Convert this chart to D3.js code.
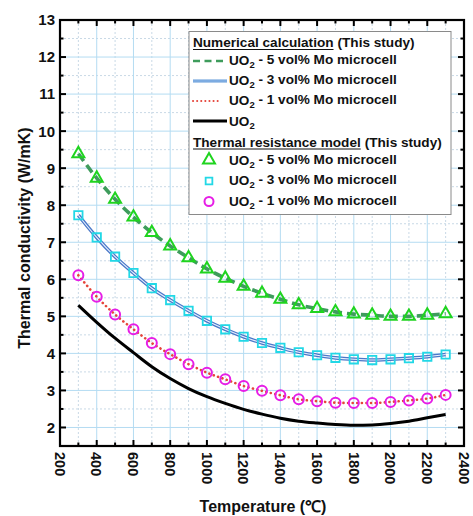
<!DOCTYPE html>
<html><head><meta charset="utf-8">
<script src="https://cdn.jsdelivr.net/npm/d3@7"></script>
<style>body{margin:0;background:#fff}svg{display:block}text{font-family:"Liberation Sans",Arial,sans-serif;font-weight:bold;fill:#111}</style>
</head><body><svg id="c" width="473" height="516"></svg>
<script>
const temps = [300,400,500,600,700,800,900,1000,1100,1200,1300,1400,1500,1600,1700,1800,1900,2000,2100,2200,2300];
const k5 = [9.39,8.73,8.16,7.68,7.26,6.90,6.58,6.28,6.03,5.81,5.62,5.46,5.31,5.21,5.12,5.06,5.03,5.00,5.00,5.03,5.07];
const k3 = [7.73,7.13,6.61,6.17,5.76,5.44,5.15,4.88,4.65,4.45,4.28,4.15,4.03,3.95,3.88,3.84,3.82,3.84,3.87,3.91,3.97];
const k1 = [6.11,5.53,5.05,4.65,4.28,3.98,3.71,3.48,3.30,3.12,2.99,2.87,2.76,2.71,2.67,2.66,2.66,2.69,2.73,2.78,2.88];
const kUO2 = [5.30,4.84,4.41,4.02,3.64,3.32,3.05,2.83,2.65,2.49,2.36,2.25,2.17,2.12,2.08,2.06,2.07,2.11,2.17,2.26,2.35];
const xTicks = [200,400,600,800,1000,1200,1400,1600,1800,2000,2200,2400];
const yTicks = [2,3,4,5,6,7,8,9,10,11,12,13];
const xLabel = "Temperature (\u2103)";
const yLabel = "Thermal conductivity (W/mK)";

const svg = d3.select("#c");
const L=60,R=464,T=20,B=446;
const x = d3.scaleLinear().domain([200,2400]).range([L,R]);
const y = d3.scaleLinear().domain([1.5,13]).range([B,T]);

// grid
const g = svg.append("g");
const xMinor = d3.range(300,2400,200), yMinor = d3.range(2.5,13,1);
g.selectAll(".gxm").data(xMinor).join("line").attr("x1",d=>x(d)).attr("x2",d=>x(d)).attr("y1",T).attr("y2",B)
 .attr("stroke","#c9d9e6").attr("stroke-dasharray","2,2").attr("stroke-width",1);
g.selectAll(".gym").data(yMinor).join("line").attr("y1",d=>y(d)).attr("y2",d=>y(d)).attr("x1",L).attr("x2",R)
 .attr("stroke","#c9d9e6").attr("stroke-dasharray","2,2").attr("stroke-width",1);
g.selectAll(".gx").data(xTicks.slice(1,-1)).join("line").attr("x1",d=>x(d)).attr("x2",d=>x(d)).attr("y1",T).attr("y2",B)
 .attr("stroke","#b4dcf2").attr("stroke-width",1);
g.selectAll(".gy").data(yTicks.slice(0,-1)).join("line").attr("y1",d=>y(d)).attr("y2",d=>y(d)).attr("x1",L).attr("x2",R)
 .attr("stroke","#b4dcf2").attr("stroke-width",1);

// lines
const pts = arr => temps.map((t,i)=>[x(t),y(arr[i])]);
const line = d3.line().curve(d3.curveMonotoneX);
svg.append("path").attr("d",line(pts(kUO2))).attr("fill","none").attr("stroke","#000").attr("stroke-width",3);
svg.append("path").attr("d",line(pts(k1))).attr("fill","none").attr("stroke","#e5443a").attr("stroke-width",2.6)
 .attr("stroke-dasharray","0.1,4.5").attr("stroke-linecap","round");
svg.append("path").attr("d",line(pts(k3))).attr("fill","none").attr("stroke","#4a78c8").attr("stroke-width",3.6);
svg.append("path").attr("d",line(pts(k3))).attr("fill","none").attr("stroke","#e8f0ff").attr("stroke-width",1.1);
svg.append("path").attr("d",line(pts(k5))).attr("fill","none").attr("stroke","#3e9c5c").attr("stroke-width",3.6)
 .attr("stroke-dasharray","9,5");

// markers
const tri = d3.symbol().type(d3.symbolTriangle).size(62);
const sq = d3.symbol().type(d3.symbolSquare).size(70);
svg.selectAll(".m5").data(temps).join("path").attr("d",tri()).attr("transform",(d,i)=>`translate(${x(d)},${y(k5[i])})`)
 .attr("fill","none").attr("stroke","#1fd41f").attr("stroke-width",2);
svg.selectAll(".m3").data(temps).join("path").attr("d",sq()).attr("transform",(d,i)=>`translate(${x(d)},${y(k3[i])})`)
 .attr("fill","none").attr("stroke","#22d8e6").attr("stroke-width",1.8);
svg.selectAll(".m1").data(temps).join("circle").attr("cx",d=>x(d)).attr("cy",(d,i)=>y(k1[i])).attr("r",5)
 .attr("fill","none").attr("stroke","#e61ee6").attr("stroke-width",2);

// frame & ticks
const ax = svg.append("g").attr("stroke","#000");
ax.append("rect").attr("x",L).attr("y",T).attr("width",R-L).attr("height",B-T).attr("fill","none").attr("stroke-width",2.2);
const xAll = d3.range(200,2401,100), yAll = d3.range(1.5,13.01,0.5);
xAll.forEach(v=>{const len = v%200===0?6:3.5;
  ax.append("line").attr("x1",x(v)).attr("x2",x(v)).attr("y1",B).attr("y2",B-len).attr("stroke-width",2);
  ax.append("line").attr("x1",x(v)).attr("x2",x(v)).attr("y1",T).attr("y2",T+len).attr("stroke-width",2);});
yAll.forEach(v=>{const len = Math.abs(v%1)<1e-6?6:3.5;
  ax.append("line").attr("y1",y(v)).attr("y2",y(v)).attr("x1",L).attr("x2",L+len).attr("stroke-width",2);
  ax.append("line").attr("y1",y(v)).attr("y2",y(v)).attr("x1",R).attr("x2",R-len).attr("stroke-width",2);});

// tick labels
svg.selectAll(".yl").data(yTicks).join("text").attr("x",55).attr("y",d=>y(d)).attr("dy","0.36em")
 .attr("text-anchor","end").attr("font-size",15).text(d=>d);
svg.selectAll(".xl").data(xTicks).join("text").attr("transform",d=>`translate(${x(d)},452) rotate(90)`)
 .attr("dy","0.36em").attr("text-anchor","start").attr("font-size",14.5).text(d=>d);

// axis titles
svg.append("text").attr("x",263).attr("y",512).attr("text-anchor","middle").attr("font-size",16).text(xLabel);
svg.append("text").attr("transform","translate(30,238) rotate(-90)").attr("text-anchor","middle").attr("font-size",16).text(yLabel);

// legend
const lg = svg.append("g");
lg.append("rect").attr("x",189).attr("y",31.5).attr("width",262).attr("height",183).attr("fill","#fff").attr("stroke","#8a8a8a").attr("stroke-width",1);
const fs = 13.6;
function header(txt, yy){
  const t1 = lg.append("text").attr("x",193).attr("y",yy).attr("dy","0.36em").attr("font-size",fs).text(txt);
  const w = t1.node().getComputedTextLength();
  lg.append("line").attr("x1",193).attr("x2",193+w).attr("y1",yy+7).attr("y2",yy+7).attr("stroke","#111").attr("stroke-width",1.2);
  lg.append("text").attr("x",193+w+4).attr("y",yy).attr("dy","0.36em").attr("font-size",fs).text("(This study)");
}
function uoText(yy, rest){
  const t = lg.append("text").attr("x",229).attr("y",yy).attr("dy","0.36em").attr("font-size",fs);
  t.append("tspan").text("UO");
  t.append("tspan").attr("font-size",9.5).attr("dy","0.3em").text("2");
  if(rest) t.append("tspan").attr("dy","-0.3em").text(rest);
}
header("Numerical calculation",42.5);
const rest = [" - 5 vol% Mo microcell"," - 3 vol% Mo microcell"," - 1 vol% Mo microcell"];
lg.append("line").attr("x1",193).attr("x2",227).attr("y1",61).attr("y2",61).attr("stroke","#3e9c5c").attr("stroke-width",2.6).attr("stroke-dasharray","7,4.5");
uoText(60.5, rest[0]);
lg.append("line").attr("x1",193).attr("x2",227).attr("y1",81).attr("y2",81).attr("stroke","#5f98d8").attr("stroke-width",3);
lg.append("line").attr("x1",193).attr("x2",227).attr("y1",81).attr("y2",81).attr("stroke","#a8c8f0").attr("stroke-width",0.8);
uoText(80.5, rest[1]);
lg.append("line").attr("x1",193).attr("x2",219).attr("y1",101).attr("y2",101).attr("stroke","#e5443a").attr("stroke-width",2).attr("stroke-dasharray","0.1,4").attr("stroke-linecap","round");
uoText(100.5, rest[2]);
lg.append("line").attr("x1",193).attr("x2",227).attr("y1",121).attr("y2",121).attr("stroke","#000").attr("stroke-width",3);
uoText(121, null);
header("Thermal resistance model",142);
lg.append("path").attr("d",tri()).attr("transform","translate(209,160)").attr("fill","none").attr("stroke","#1fd41f").attr("stroke-width",2);
uoText(160, rest[0]);
lg.append("path").attr("d",d3.symbol().type(d3.symbolSquare).size(45)()).attr("transform","translate(209,181)").attr("fill","none").attr("stroke","#22d8e6").attr("stroke-width",1.8);
uoText(180.5, rest[1]);
lg.append("circle").attr("cx",209).attr("cy",201.5).attr("r",4.5).attr("fill","none").attr("stroke","#e61ee6").attr("stroke-width",2);
uoText(201, rest[2]);
</script></body></html>
